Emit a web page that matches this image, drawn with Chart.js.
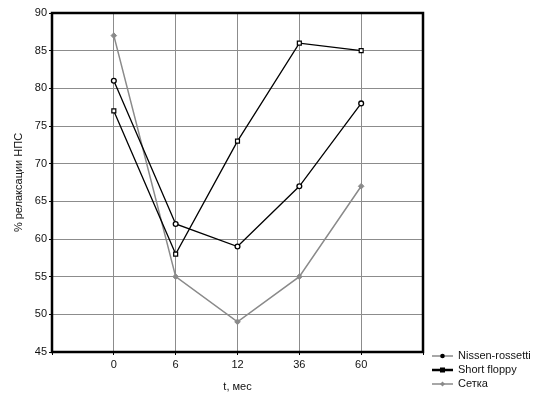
<!DOCTYPE html>
<html>
<head>
<meta charset="utf-8">
<script src="https://cdn.jsdelivr.net/npm/chart.js@4"></script>
<style>
  html, body { margin: 0; padding: 0; background: #fff; }
  #wrap { width: 535px; height: 397px; }
</style>
</head>
<body>
<div id="wrap"><canvas id="chart" width="535" height="397"></canvas></div>
<script>
// x categories (months) and y ticks
const tLabels = ["0", "6", "12", "36", "60"];
const yTicks = [45, 50, 55, 60, 65, 70, 75, 80, 85, 90];

// series values
const nissen = [81, 62, 59, 67, 78];
const shortFloppy = [77, 58, 73, 86, 85];
const setka = [87, 55, 49, 55, 67];

const gray = '#8a8a8a';

// put values on index positions so the axis can have a gap at both ends
function toPoints(values){
    return values.map((v, i) => ({ x: i, y: v }));
};

// frame round the plot + legend in the lower right corner
const framePlugin = {
    id: 'frame',
    afterDraw(chart){
        const ctx = chart.ctx;
        const a = chart.chartArea;
        ctx.save();
        ctx.strokeStyle = '#000';
        ctx.lineWidth = 2.5;
        ctx.strokeRect(a.left, a.top, a.right - a.left, a.bottom - a.top);

        // legend
        const x0 = 432, y0 = 356, step = 14;
        ctx.font = '11px "Liberation Sans", Arial, sans-serif';
        ctx.textBaseline = 'middle';
        chart.data.datasets.forEach((ds, i) => {
            const y = y0 + i * step;
            ctx.strokeStyle = ds.legendLine;
            ctx.lineWidth = ds.legendWidth;
            ctx.beginPath();
            ctx.moveTo(x0, y);
            ctx.lineTo(x0 + 21, y);
            ctx.stroke();
            ctx.fillStyle = ds.legendMark;
            ctx.strokeStyle = ds.legendMark;
            ctx.lineWidth = 1;
            if(ds.pointStyle === 'circle'){
                ctx.beginPath();
                ctx.arc(x0 + 10.5, y, 2.3, 0, Math.PI * 2);
                ctx.fill();
            }else if(ds.pointStyle === 'rect'){
                ctx.fillRect(x0 + 8, y - 2.5, 5, 5);
            }else{
                ctx.beginPath();
                ctx.moveTo(x0 + 10.5, y - 2.5);
                ctx.lineTo(x0 + 13, y);
                ctx.lineTo(x0 + 10.5, y + 2.5);
                ctx.lineTo(x0 + 8, y);
                ctx.closePath();
                ctx.fill();
            }
            ctx.fillStyle = '#111';
            ctx.fillText(ds.label, x0 + 26, y);
        });
        ctx.restore();
    }
};

new Chart(document.getElementById('chart'), {
    type: 'line',
    data: {
        datasets: [{
            label: 'Nissen-rossetti',
            data: toPoints(nissen),
            borderColor: '#000',
            borderWidth: 1.3,
            pointStyle: 'circle',
            pointRadius: 2.4,
            pointBackgroundColor: '#fff',
            pointBorderColor: '#000',
            pointBorderWidth: 1.3,
            legendLine: gray,
            legendWidth: 1.5,
            legendMark: '#000'
        }, {
            label: 'Short floppy',
            data: toPoints(shortFloppy),
            borderColor: '#000',
            borderWidth: 1.3,
            pointStyle: 'rect',
            pointRadius: 2.8,
            pointBackgroundColor: '#fff',
            pointBorderColor: '#000',
            pointBorderWidth: 1.2,
            legendLine: '#000',
            legendWidth: 2.5,
            legendMark: '#000'
        }, {
            label: 'Сетка',
            data: toPoints(setka),
            borderColor: gray,
            borderWidth: 1.5,
            pointStyle: 'rectRot',
            pointRadius: 2.8,
            pointBackgroundColor: gray,
            pointBorderColor: gray,
            pointBorderWidth: 1,
            legendLine: gray,
            legendWidth: 1.5,
            legendMark: gray
        }]
    },
    options: {
        responsive: false,
        animation: false,
        layout: { padding: { left: 0, right: 112, top: 13, bottom: 0 } },
        plugins: {
            legend: { display: false },
            tooltip: { enabled: false }
        },
        elements: { line: { tension: 0 } },
        scales: {
            x: {
                type: 'linear',
                min: -1,
                max: tLabels.length,
                afterFit: (s) => { s.height = 45; },
                afterBuildTicks: (s) => {
                    s.ticks = [-1].concat(tLabels.map((t, i) => i), [tLabels.length]).map(v => ({ value: v }));
                },
                ticks: {
                    color: '#111',
                    padding: 3,
                    maxRotation: 0,
                    font: { family: '"Liberation Sans", Arial, sans-serif', size: 11 },
                    callback: (v) => (v >= 0 && v < tLabels.length) ? tLabels[v] : ''
                },
                grid: { color: '#8c8c8c', lineWidth: 1, tickLength: 3, tickColor: '#000' },
                border: { display: false },
                title: {
                    display: true,
                    text: 't, мес',
                    color: '#111',
                    padding: { top: 0, bottom: 3 },
                    font: { family: '"Liberation Sans", Arial, sans-serif', size: 11 }
                }
            },
            y: {
                min: yTicks[0],
                max: yTicks[yTicks.length - 1],
                afterFit: (s) => { s.width = 52; },
                afterBuildTicks: (s) => { s.ticks = yTicks.map(v => ({ value: v })); },
                ticks: {
                    color: '#111',
                    padding: 2,
                    font: { family: '"Liberation Sans", Arial, sans-serif', size: 11 }
                },
                grid: { color: '#8c8c8c', lineWidth: 1, tickLength: 3, tickColor: '#000' },
                border: { display: false },
                title: {
                    display: true,
                    text: '% релаксации НПС',
                    color: '#111',
                    padding: { top: 12, bottom: 0 },
                    font: { family: '"Liberation Sans", Arial, sans-serif', size: 11 }
                }
            }
        }
    },
    plugins: [framePlugin]
});
</script>
</body>
</html>
